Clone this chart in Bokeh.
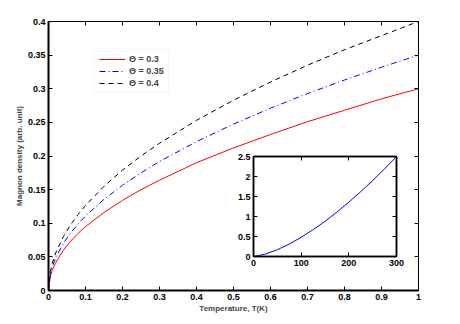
from bokeh.plotting import figure
from bokeh.models import LinearAxis, FixedTicker, CustomJSTickFormatter, Legend, LegendItem
from bokeh.embed import file_html
from bokeh.resources import INLINE

# ---- data ----
T = [0, 0.005, 0.01, 0.02, 0.04, 0.06, 0.08, 0.1, 0.15, 0.2, 0.25, 0.3, 0.4, 0.5, 0.6, 0.7, 0.8, 0.9, 1.0]
n_03 = [0, 0.021, 0.030, 0.042, 0.060, 0.0735, 0.085, 0.095, 0.116, 0.134, 0.150, 0.164, 0.190, 0.212, 0.232, 0.251, 0.268, 0.285, 0.300]
n_035 = [0, 0.0247, 0.035, 0.0495, 0.070, 0.0857, 0.099, 0.1107, 0.1356, 0.1565, 0.175, 0.1917, 0.2214, 0.2475, 0.2711, 0.2928, 0.313, 0.332, 0.350]
n_04 = [0, 0.0283, 0.040, 0.0566, 0.080, 0.098, 0.113, 0.1265, 0.155, 0.179, 0.200, 0.219, 0.253, 0.283, 0.310, 0.335, 0.358, 0.379, 0.400]
labels = ["\u0398 = 0.3", "\u0398 = 0.35", "\u0398 = 0.4"]

T_inset = [0, 25, 50, 75, 100, 125, 150, 175, 200, 225, 250, 275, 300]
n_inset = [0, 0.06, 0.17, 0.31, 0.48, 0.67, 0.88, 1.11, 1.36, 1.62, 1.90, 2.19, 2.50]

x_ticks = [0, 0.1, 0.2, 0.3, 0.4, 0.5, 0.6, 0.7, 0.8, 0.9, 1.0]
y_ticks = [0, 0.05, 0.1, 0.15, 0.2, 0.25, 0.3, 0.35, 0.4]
xi_ticks = [0, 100, 200, 300]
yi_ticks = [0, 0.5, 1, 1.5, 2, 2.5]

FONT = "Liberation Sans"
fmt = CustomJSTickFormatter(code="return String(Math.round(tick*1000)/1000)")

def style_axis(ax, ticks, show_labels=True, size="9px", lw=1.5):
    ax.ticker = FixedTicker(ticks=ticks)
    ax.formatter = fmt
    ax.major_tick_in = 4
    ax.major_tick_out = 0
    ax.major_tick_line_width = 1
    ax.minor_tick_line_color = None
    ax.axis_line_color = "black"
    ax.axis_line_width = lw
    ax.major_label_text_font = FONT
    ax.major_label_text_font_size = size if show_labels else "0px"
    ax.major_label_text_font_style = "bold"
    ax.major_label_text_color = "black"
    ax.major_label_standoff = 3 if show_labels else 0

p = figure(frame_width=370, frame_height=269, x_range=(0, 1), y_range=(0, 0.4),
           output_backend="svg", toolbar_location=None,
           min_border_left=48, min_border_right=30, min_border_top=21, min_border_bottom=30)
p.grid.visible = False
p.outline_line_color = "black"
p.outline_line_width = 1
p.background_fill_color = "white"
p.border_fill_color = "white"

style_axis(p.xaxis[0], x_ticks, lw=2)
style_axis(p.yaxis[0], y_ticks, lw=2)
p.xaxis[0].axis_label = "Temperature, T(K)"
p.yaxis[0].axis_label = "Magnon density (arb. unit)"
for ax in (p.xaxis[0], p.yaxis[0]):
    ax.axis_label_text_font = FONT
    ax.axis_label_text_font_size = "8px"
    ax.axis_label_text_font_style = "bold"
    ax.axis_label_standoff = 1

top = LinearAxis()
style_axis(top, x_ticks, show_labels=False, lw=1)
p.add_layout(top, "above")
right = LinearAxis()
style_axis(right, y_ticks, show_labels=False, lw=1)
p.add_layout(right, "right")

r1 = p.line(T, n_03, line_color="red", line_width=1)
r2 = p.line(T, n_035, line_color="blue", line_width=1, line_dash="6 3 1 3")
r3 = p.line(T, n_04, line_color="black", line_width=1, line_dash="5 4")

legend = Legend(items=[LegendItem(label=labels[0], renderers=[r1]),
                       LegendItem(label=labels[1], renderers=[r2]),
                       LegendItem(label=labels[2], renderers=[r3])],
                location=(46, 197))
legend.label_text_font = FONT
legend.label_text_font_size = "9px"
legend.label_text_font_style = "bold"
legend.glyph_width = 26
legend.glyph_height = 10
legend.spacing = 2
legend.padding = 4
legend.margin = 0
legend.label_standoff = 4
legend.border_line_color = "#eeeeee"
legend.background_fill_alpha = 1
p.add_layout(legend, "center")

# ---- inset ----
q = figure(frame_width=143, frame_height=100, x_range=(0, 300), y_range=(0, 2.5),
           output_backend="svg", toolbar_location=None,
           min_border_left=22, min_border_right=12, min_border_top=6, min_border_bottom=16)
q.grid.visible = False
q.outline_line_color = "black"
q.outline_line_width = 1.5
q.border_fill_color = None
q.background_fill_color = "white"
style_axis(q.xaxis[0], xi_ticks)
style_axis(q.yaxis[0], yi_ticks)
qt = LinearAxis()
style_axis(qt, xi_ticks, show_labels=False)
q.add_layout(qt, "above")
qr = LinearAxis()
style_axis(qr, yi_ticks, show_labels=False)
q.add_layout(qr, "right")
q.line(T_inset, n_inset, line_color="blue", line_width=1)
q.styles = {"position": "absolute", "left": "231px", "top": "150px", "z-index": "10"}

open("out.html", "w").write(file_html([p, q], INLINE))
